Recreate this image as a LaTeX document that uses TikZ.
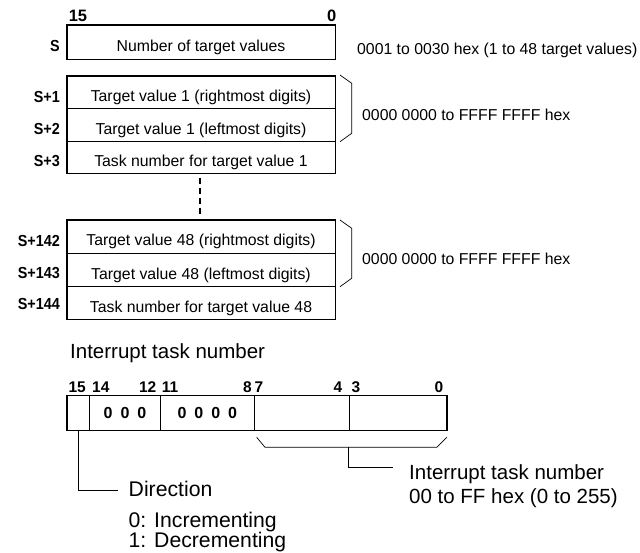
\documentclass[tikz,border=0pt]{standalone}
\usepackage{fontspec}
\setmainfont{Liberation Sans}
\begin{document}
\begin{tikzpicture}[x=1pt,y=-1pt,
  cell/.style={draw, line width=0.7pt, inner sep=0pt, font=\fontsize{15.8}{18}\selectfont},
  row/.style={cell, minimum width=268pt, text height=19pt, text depth=0pt},
  lbl/.style={inner sep=0pt, anchor=base east, font=\fontsize{16}{18}\selectfont\bfseries},
  bitn/.style={inner sep=0pt, anchor=base, font=\fontsize{15.5}{18}\selectfont\bfseries},
  topbit/.style={bitn, font=\fontsize{16.5}{18}\selectfont\bfseries},
  note/.style={inner sep=0pt, anchor=base west, font=\fontsize{15.8}{18}\selectfont},
  big/.style={inner sep=0pt, anchor=base west, font=\fontsize{20.5}{24}\selectfont},
  bigger/.style={big, font=\fontsize{21.2}{24}\selectfont},
  outer/.style={line width=1.5pt},
  thinl/.style={line width=0.7pt},
  bitcell/.style={cell, minimum height=34.3pt, font=\fontsize{16}{18}\selectfont\bfseries}
]
\useasboundingbox (0,0) rectangle (640,553);

% top register S
\node[row, minimum height=34pt] (s0) at (201,42) {Number of target values};
\draw[outer] (s0.north west) rectangle (s0.south east);
\node[topbit] (t15) at (78,21.5) {15};
\node[topbit] (t0) at (331.7,21.5) {0};
\node[lbl] (l0) at (60,51.5) {\scalebox{0.9}[1]{S}};
\node[note] (n0) at (357,55) {0001 to 0030 hex (1 to 48 target values)};

% block 1
\node[row, minimum height=32.45pt] (r1) at (201,92.2) {Target value 1 (rightmost digits)};
\node[row, minimum height=32.45pt] (r2) at (201,124.65) {Target value 1 (leftmost digits)};
\node[row, minimum height=32.45pt] (r3) at (201,157.1) {Task number for target value 1};
\draw[outer] (r1.north west) rectangle (r3.south east);
\node[lbl] (l1) at (60,103) {\scalebox{0.9}[1]{S+1}};
\node[lbl] (l2) at (60,135) {\scalebox{0.9}[1]{S+2}};
\node[lbl] (l3) at (60,166.5) {\scalebox{0.9}[1]{S+3}};
\draw[thinl] (340,75) -- (351.7,83.3) -- (351.7,133.3) -- (340,141.7);
\node[note] (n1) at (362,121) {0000 0000 to FFFF FFFF hex};

% block 2
\node[row, minimum height=33.1pt] (r4) at (201,236.5) {Target value 48 (rightmost digits)};
\node[row, minimum height=33.1pt] (r5) at (201,269.6) {Target value 48 (leftmost digits)};
\node[row, minimum height=33.1pt] (r6) at (201,302.7) {Task number for target value 48};
\draw[outer] (r4.north west) rectangle (r6.south east);
\node[lbl] (l4) at (60,246.5) {\scalebox{0.9}[1]{S+142}};
\node[lbl] (l5) at (60,278.3) {\scalebox{0.9}[1]{S+143}};
\node[lbl] (l6) at (60,310) {\scalebox{0.9}[1]{S+144}};
\draw[thinl] (340,220) -- (351.7,228.3) -- (351.7,278.3) -- (340,286.7);
\node[note] (n2) at (362,264.3) {0000 0000 to FFFF FFFF hex};

% dashed continuation
\draw[line width=1.3pt, dash pattern=on 6pt off 4pt] ([xshift=-1pt,yshift=-4pt]r3.south) -- ([xshift=-1pt,yshift=4pt]r4.north);

% interrupt task number word
\node[big] (hdr) at (70,358.3) {Interrupt task number};

\node[bitn] at (77.2,392.7) {15};
\node[bitn] at (100.8,392.7) {14};
\node[bitn] at (147.7,392.7) {12};
\node[bitn] at (170,392.7) {11};
\node[bitn] at (247.5,392.7) {8};
\node[bitn] at (259,392.7) {7};
\node[bitn] at (338,392.7) {4};
\node[bitn] at (356,392.7) {3};
\node[bitn] at (439,392.7) {0};

\node[bitcell, minimum width=22pt] (b15) at (78.3,412.85) {};
\node[bitcell, minimum width=71.4pt] (b14) at (125,412.85) {0\hspace{8pt}0\hspace{8pt}0};
\node[bitcell, minimum width=93.3pt] (b11) at (207.35,412.85) {0\hspace{8pt}0\hspace{8pt}0\hspace{8pt}0};
\node[bitcell, minimum width=95pt] (b7) at (301.5,412.85) {};
\node[bitcell, minimum width=97.7pt] (b3) at (397.85,412.85) {};
\draw[outer] (b15.north west) rectangle (b3.south east);

% bracket for task number
\draw[thinl] (256.7,437.3) -- (265,447.3) -- (436.7,447.3) -- (446.7,437.3);
\coordinate (bm) at (348,447.3);
\coordinate (be) at (393,467.7);
\draw[thinl] (bm) |- (be);
\node[big] (it1) at (409,479.3) {Interrupt task number};
\node[big] (it2) at (409,503) {00 to FF hex (0 to 255)};

% direction
\coordinate (de) at (118.3,490.7);
\draw[thinl] (b15.south) |- (de);
\node[bigger] (dir) at (128.5,496.7) {Direction};
\node[bigger] (d0) at (128.5,527) {0: Incrementing};
\node[bigger] (d1) at (128.5,547) {1: Decrementing};
\end{tikzpicture}
\end{document}
